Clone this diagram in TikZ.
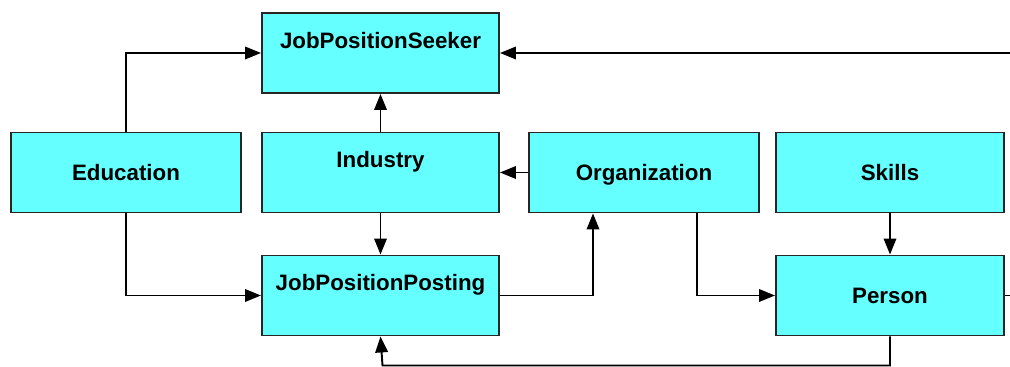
\documentclass[tikz,border=0pt]{standalone}
\usepackage{fontspec}
\setmainfont{Liberation Sans}
\usetikzlibrary{arrows.meta}
\definecolor{boxcyan}{RGB}{102,255,255}
\begin{document}
\begin{tikzpicture}[>={Triangle[length=0.32cm,width=0.25cm]},line width=1.1pt,font=\fontsize{12.7}{15}\selectfont\bfseries,
	box/.style={draw=black!85,fill=boxcyan,inner sep=0pt,minimum width=#1,minimum height=1.6cm,text height=0.33cm,text depth=0cm},
	boxtop/.style={box=#1,text height=0.35cm,text depth=0.53cm}]
			\clip (0,0) rectangle (20.2,7.34);
			\node[boxtop=4.74cm] (seeker) at (7.61,6.28) {JobPositionSeeker};
			\node[box=4.6cm] (edu) at (2.52,3.89) {Education};
			\node[boxtop=4.74cm] (ind) at (7.61,3.89) {Industry};
			\node[box=4.6cm] (org) at (12.88,3.89) {Organization};
			\node[box=4.56cm] (skills) at (17.8,3.89) {Skills};
			\node[boxtop=4.74cm] (post) at (7.61,1.43) {JobPositionPosting};
			\node[box=4.56cm] (person) at (17.8,1.43) {Person};
			\coordinate (bot) at (7.65,0.03);
			\coordinate (rt) at (20.6,6.28);
			\draw[->] (edu.north) |- (seeker.west);
			\draw[->] (edu.south) |- (post.west);
			\draw[->] (ind.north)--(seeker.south);
			\draw[->] (ind.south)--(post.north);
			\draw[->] (org.west)--(ind.east);
			\draw[->] (post.east) -| ([xshift=-1.02cm]org.south);
			\draw[->] ([xshift=1.06cm]org.south) |- (person.west);
			\draw[->] (skills.south)--(person.north);
			\draw[->] (person.south) |- (bot)--(post.south);
			\draw[->] (person.east) -| (rt)--(seeker.east);
	\end{tikzpicture}
\end{document}
